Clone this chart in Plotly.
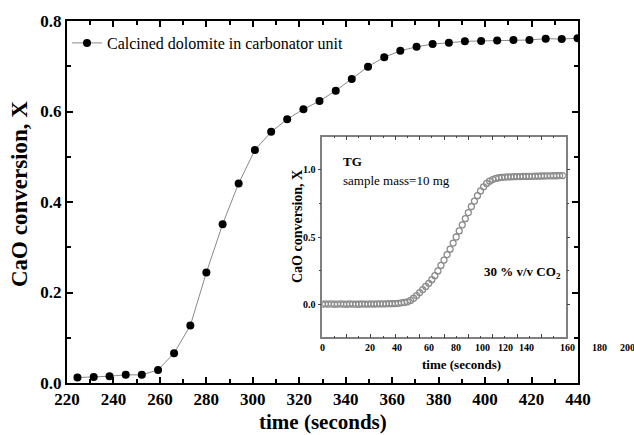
import plotly.graph_objects as go

# ---------------- data ----------------
time_main = [224.5, 231.5, 238.3, 245.3, 252.2, 259.2, 266.1, 273.1, 280.0, 287.0,
             293.9, 300.9, 307.9, 314.8, 321.8, 328.7, 335.7, 342.6, 349.6, 356.6,
             363.5, 370.5, 377.4, 384.4, 391.3, 398.3, 405.2, 412.2, 419.1, 426.1,
             433.0, 439.8]
conv_main = [0.012, 0.013, 0.015, 0.018, 0.018, 0.029, 0.066, 0.127, 0.244, 0.351,
             0.441, 0.515, 0.555, 0.583, 0.605, 0.623, 0.646, 0.672, 0.699, 0.720,
             0.734, 0.743, 0.749, 0.752, 0.755, 0.756, 0.757, 0.758, 0.758, 0.761,
             0.760, 0.762]

time_tg = [0, 2, 4, 6, 8, 10, 12, 14, 16, 18, 20, 22, 24, 26, 28, 30, 32, 34, 36, 38,
           40, 42, 44, 46, 48, 50, 52, 54, 56, 58, 60, 62, 64, 66, 68, 70, 72, 74, 76, 78,
           80, 82, 84, 86, 88, 90, 92, 94, 96, 98, 100, 102, 104, 106, 108, 110, 112, 114,
           116, 118, 120, 122, 124, 126, 128, 130, 132, 134, 136, 138, 140, 142, 144, 146,
           148, 150, 152, 154, 156, 158]
conv_tg = [0.004, 0.006, 0.005, 0.007, 0.004, 0.005, 0.006, 0.005, 0.004, 0.006,
           0.005, 0.005, 0.004, 0.006, 0.005, 0.005, 0.006, 0.005, 0.006, 0.007,
           0.006, 0.007, 0.008, 0.008, 0.009, 0.011,
           0.014, 0.017, 0.022, 0.032, 0.048, 0.068, 0.090, 0.112, 0.135, 0.158,
           0.185, 0.215, 0.250, 0.290, 0.330, 0.370, 0.410, 0.455, 0.500, 0.545,
           0.590, 0.635, 0.680, 0.725, 0.765, 0.805, 0.840, 0.870, 0.895, 0.912,
           0.924, 0.932, 0.937, 0.940, 0.942, 0.943, 0.944, 0.945, 0.946, 0.946,
           0.947, 0.947, 0.948, 0.948, 0.949, 0.949, 0.950, 0.950, 0.951, 0.951,
           0.952, 0.952, 0.953, 0.953]

# inset x tick labels (as printed) and where they sit on the inset time axis
tg_xtick_text = ["0", "20", "40", "60", "80", "100", "120", "140", "160", "180", "200"]
tg_xtick_at = [0, 31.4, 49.1, 70.1, 87.9, 105.6, 120.1, 134.4, 161.4, 182.4, 200.8]

# ---------------- layout geometry ----------------
W, H = 634, 435
ML, MR, MT, MB = 67, 56, 21, 52
PW, PH = W - ML - MR, H - MT - MB


def px2x(px):
    return (px - ML) / PW


def py2y(py):
    return (H - MB - py) / PH


ix0, ix1 = px2x(322.3), px2x(565.7)
iy0, iy1 = py2y(337.3), py2y(136.7)
TG_XR = [0, 160]

FONT = "Liberation Serif"

fig = go.Figure()

fig.add_trace(go.Scatter(
    x=time_main, y=conv_main, mode="lines+markers",
    name="Calcined dolomite in carbonator unit",
    line=dict(color="#8a8a8a", width=1),
    marker=dict(symbol="circle", size=8, color="black"),
    xaxis="x", yaxis="y",
))

fig.add_trace(go.Scatter(
    x=time_tg, y=conv_tg, mode="markers", showlegend=False,
    marker=dict(symbol="circle-open", size=6, color="#8c8c8c", line=dict(width=1.3)),
    xaxis="x2", yaxis="y2",
))

main_axis = dict(showline=True, linecolor="black", linewidth=2, mirror="ticks",
                 ticks="inside", ticklen=6, tickwidth=1.5, tickcolor="black",
                 showgrid=False, zeroline=False,
                 tickfont=dict(family=FONT, size=17, color="black", weight="bold"))

fig.update_layout(
    width=W, height=H,
    margin=dict(l=ML, r=MR, t=MT, b=MB),
    paper_bgcolor="white", plot_bgcolor="white",
    font=dict(family=FONT, color="black"),
    xaxis=dict(main_axis, range=[220, 440], tick0=220, dtick=20,
               minor=dict(dtick=10, ticks="inside", ticklen=4, tickcolor="black"),
               domain=[0, 1], anchor="y"),
    yaxis=dict(main_axis, range=[0, 0.8], tick0=0, dtick=0.2, tickformat=".1f",
               minor=dict(dtick=0.1, ticks="inside", ticklen=4, tickcolor="black"),
               domain=[0, 1], anchor="x"),
    xaxis2=dict(domain=[ix0, ix1], anchor="y2", range=TG_XR,
                showline=True, linecolor="#808080", linewidth=1.5, mirror="ticks",
                ticks="inside", ticklen=4, tickcolor="#444", tick0=0, dtick=16,
                minor=dict(dtick=8, ticks="inside", ticklen=2, tickcolor="#444"),
                showticklabels=False, showgrid=False, zeroline=False),
    yaxis2=dict(domain=[iy0, iy1], anchor="x2", range=[-0.24, 1.24],
                showline=True, linecolor="#808080", linewidth=1.5, mirror="ticks",
                ticks="outside", ticklen=3, tickcolor="#444", tick0=0, dtick=0.5,
                tickformat=".1f",
                minor=dict(dtick=0.25, ticks="outside", ticklen=2, tickcolor="#444"),
                tickfont=dict(family=FONT, size=10, color="black", weight="bold"),
                showgrid=False, zeroline=False),
    legend=dict(x=0.0, y=py2y(43), xanchor="left", yanchor="middle",
                bgcolor="rgba(0,0,0,0)",
                font=dict(family=FONT, size=16, color="black")),
    showlegend=True,
)

ann = []
# main axis titles
ann.append(dict(text="time (seconds)", xref="paper", yref="paper",
                x=0.5, y=py2y(422), xanchor="center", yanchor="middle",
                showarrow=False, font=dict(family=FONT, size=21, weight="bold")))
ann.append(dict(text="CaO conversion, X", xref="paper", yref="paper",
                x=px2x(20), y=py2y(194), xanchor="center", yanchor="middle",
                textangle=-90, showarrow=False,
                font=dict(family=FONT, size=23, weight="bold")))
# inset texts
ann.append(dict(text="TG", xref="paper", yref="paper", x=px2x(341), y=py2y(162),
                xanchor="left", yanchor="middle", showarrow=False,
                font=dict(family=FONT, size=13, weight="bold")))
ann.append(dict(text="sample mass=10 mg", xref="paper", yref="paper",
                x=px2x(341), y=py2y(180), xanchor="left", yanchor="middle",
                showarrow=False, font=dict(family=FONT, size=13)))
ann.append(dict(text="30 % v/v CO<sub>2</sub>", xref="paper", yref="paper",
                x=px2x(563), y=py2y(272), xanchor="right", yanchor="middle",
                showarrow=False, font=dict(family=FONT, size=13, weight="bold")))
ann.append(dict(text="time (seconds)", xref="paper", yref="paper",
                x=px2x(461.7), y=py2y(364), xanchor="center", yanchor="middle",
                showarrow=False, font=dict(family=FONT, size=13, weight="bold")))
ann.append(dict(text="CaO conversion, X", xref="paper", yref="paper",
                x=px2x(297), y=py2y(227), xanchor="center", yanchor="middle",
                textangle=-90, showarrow=False,
                font=dict(family=FONT, size=14, weight="bold")))
# inset x tick labels
for t, v in zip(tg_xtick_text, tg_xtick_at):
    xp = ix0 + (v - TG_XR[0]) / (TG_XR[1] - TG_XR[0]) * (ix1 - ix0)
    ann.append(dict(text=t, xref="paper", yref="paper", x=xp, y=py2y(347.5),
                    xanchor="center", yanchor="middle", showarrow=False,
                    font=dict(family=FONT, size=10, weight="bold")))

fig.update_layout(annotations=ann)

fig.write_html("out.html", config={"displayModeBar": False},
               post_script="document.body.style.margin='0';document.body.style.padding='0';")
